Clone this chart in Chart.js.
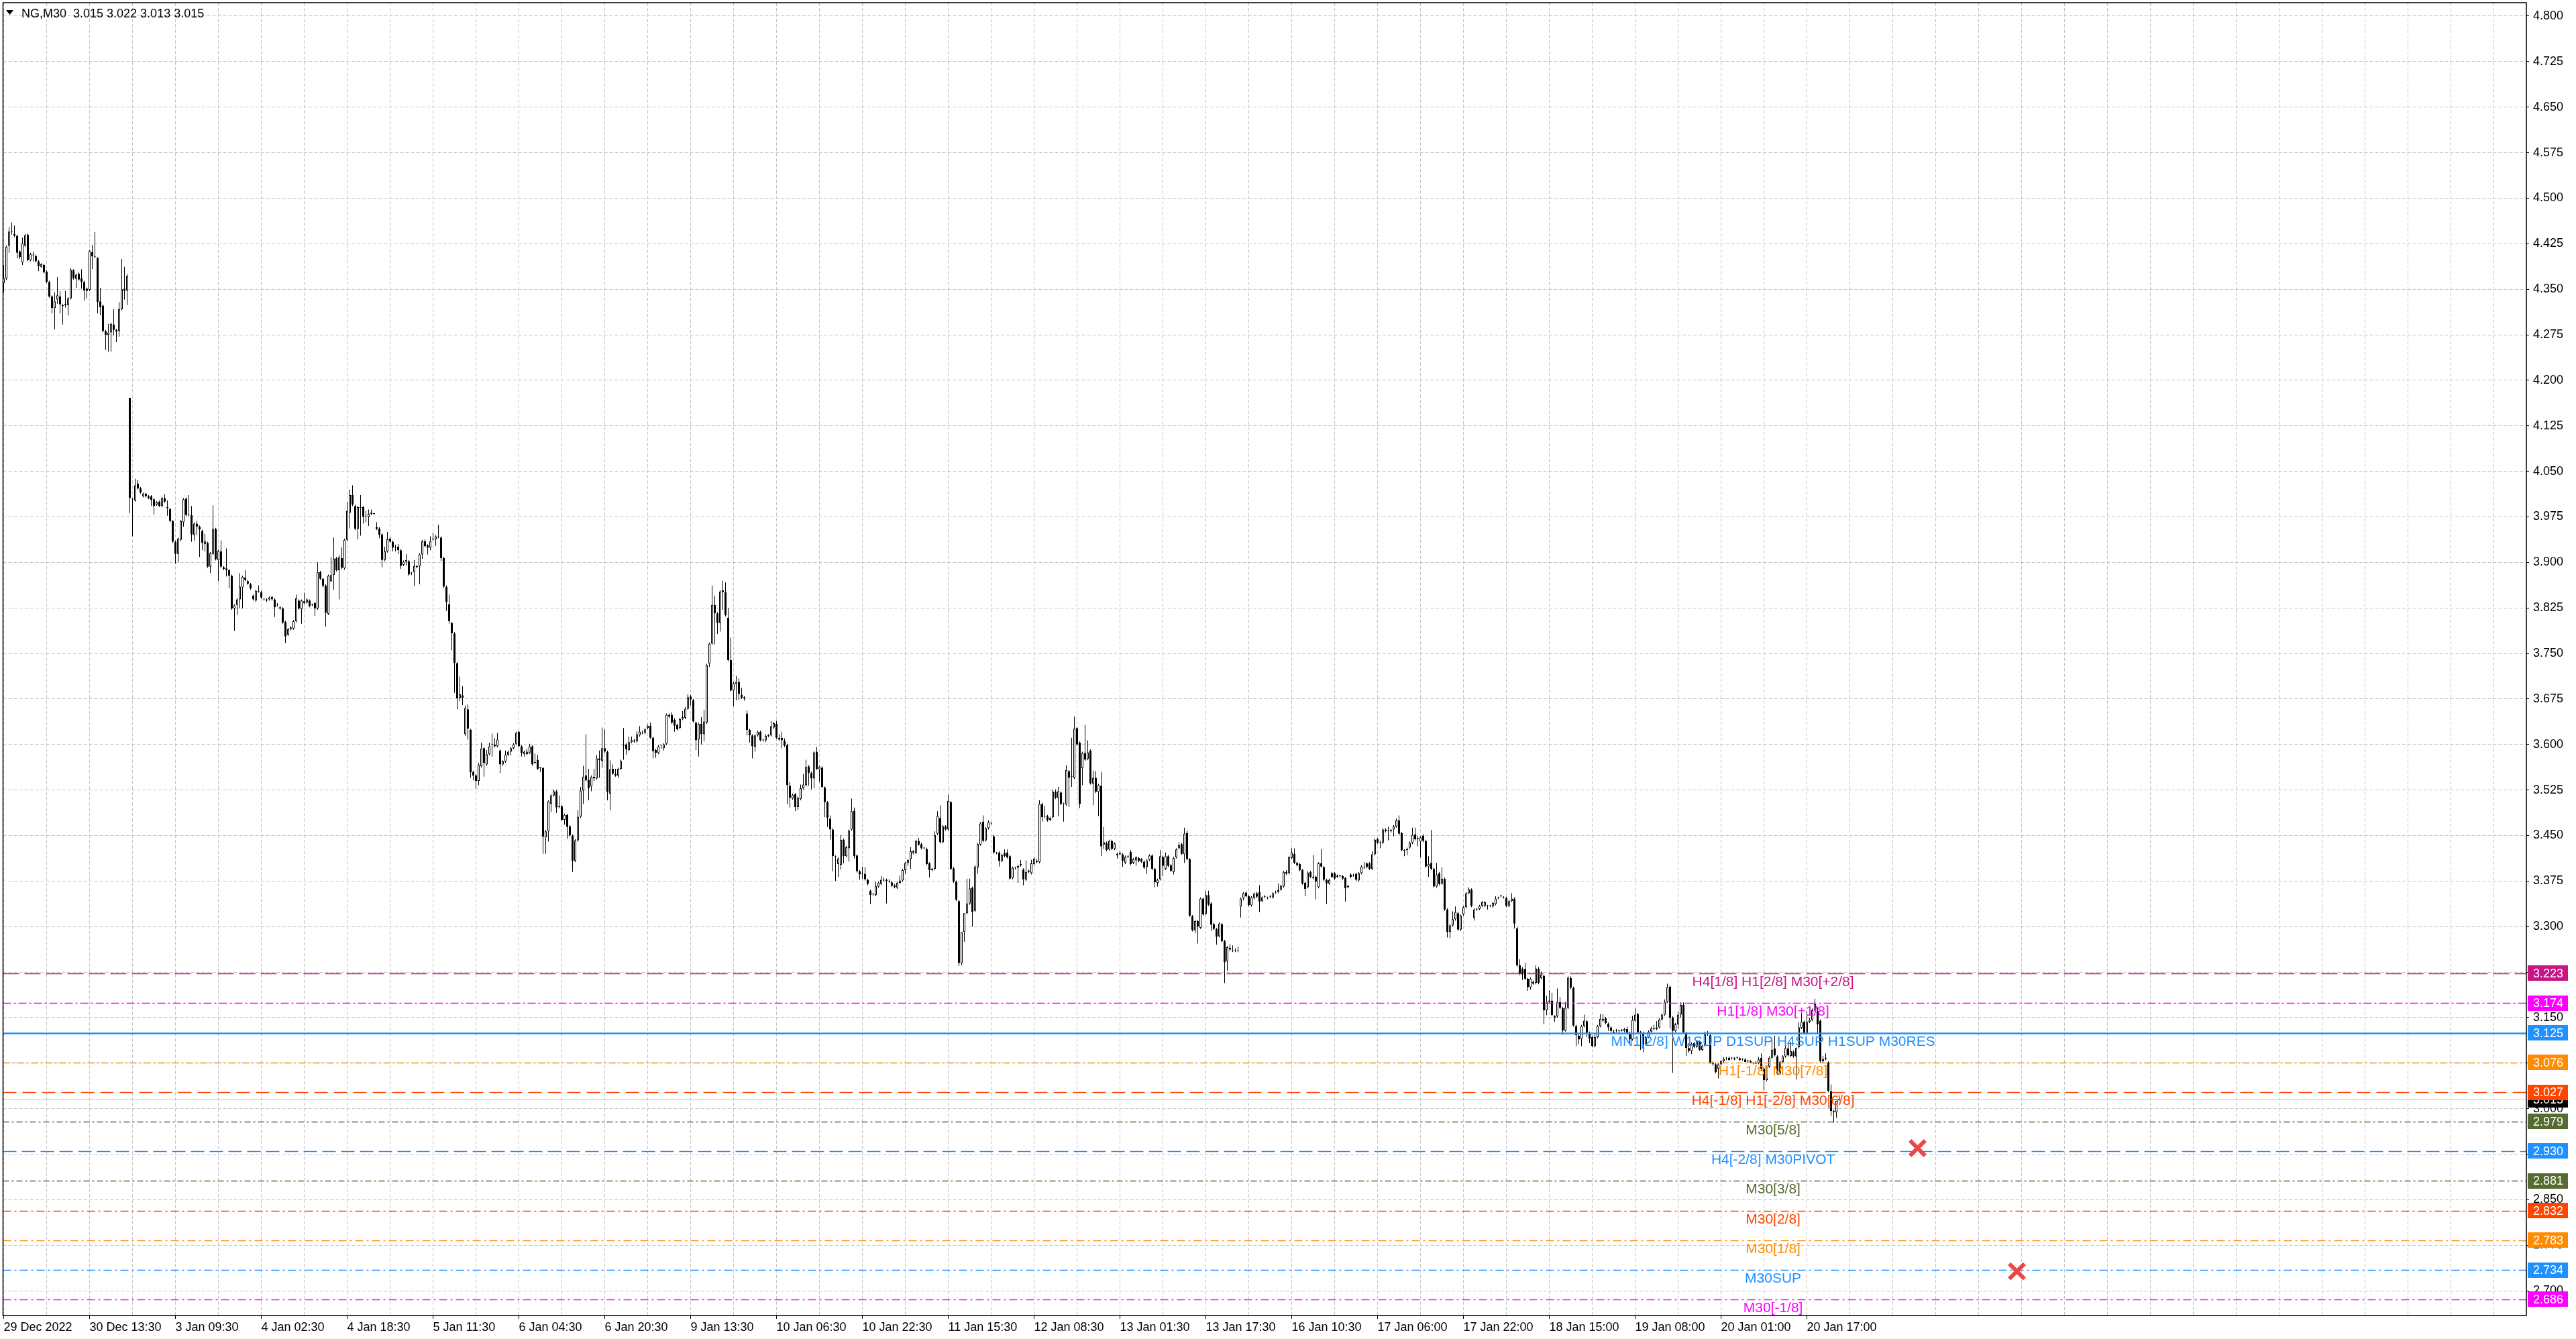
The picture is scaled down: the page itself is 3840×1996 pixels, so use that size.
<!DOCTYPE html>
<html>
<head>
<meta charset="utf-8">
<title>NG,M30</title>
<script src="https://cdn.jsdelivr.net/npm/chart.js@4.4.1/dist/chart.umd.min.js"></script>
<style>
  html, body { margin: 0; padding: 0; background: #fff; }
  #wrap { width: 3840px; height: 1996px; position: relative; }
</style>
</head>
<body>
<div id="wrap"><canvas id="chart" width="3840" height="1996"></canvas></div>
<script>
const symbolName = 'NG,M30';

// time axis labels, one every 32 bars
const dateLabels = ['29 Dec 2022', '30 Dec 13:30', '3 Jan 09:30', '4 Jan 02:30', '4 Jan 18:30', '5 Jan 11:30',
  '6 Jan 04:30', '6 Jan 20:30', '9 Jan 13:30', '10 Jan 06:30', '10 Jan 22:30', '11 Jan 15:30', '12 Jan 08:30',
  '13 Jan 01:30', '13 Jan 17:30', '16 Jan 10:30', '17 Jan 06:00', '17 Jan 22:00', '18 Jan 15:00', '19 Jan 08:00',
  '20 Jan 01:00', '20 Jan 17:00'];

const priceTicks = [2.700, 2.775, 2.850, 2.925, 3.000, 3.075, 3.150, 3.225, 3.300, 3.375, 3.450, 3.525, 3.600,
  3.675, 3.750, 3.825, 3.900, 3.975, 4.050, 4.125, 4.200, 4.275, 4.350, 4.425, 4.500, 4.575, 4.650, 4.725, 4.800];

// M30 bars
const barOpen = [
  4.360,4.368,4.422,4.445,4.441,4.438,4.412,4.394,4.422,4.440,
  4.398,4.406,4.405,4.396,4.387,4.390,4.379,4.362,4.338,4.319,
  4.333,4.338,4.324,4.324,4.324,4.335,4.381,4.367,4.376,4.368,
  4.362,4.351,4.349,4.411,4.403,4.401,4.330,4.323,4.281,4.275,
  4.279,4.292,4.283,4.281,4.317,4.351,4.348,4.171,4.004,4.002,
  4.030,4.022,4.009,4.013,4.009,4.009,4.004,3.995,4.000,3.993,
  4.006,3.990,3.988,3.968,3.934,3.914,3.937,3.966,4.005,3.978,
  3.978,3.945,3.964,3.959,3.952,3.930,3.932,3.893,3.914,3.955,
  3.904,3.918,3.892,3.890,3.887,3.878,3.824,3.830,3.839,3.859,
  3.875,3.869,3.864,3.845,3.837,3.852,3.851,3.839,3.837,3.839,
  3.839,3.839,3.829,3.824,3.824,3.802,3.781,3.790,3.791,3.803,
  3.837,3.823,3.836,3.834,3.837,3.830,3.833,3.824,3.884,3.873,
  3.862,3.815,3.869,3.879,3.907,3.887,3.907,3.890,3.937,3.982,
  4.011,3.993,3.955,3.991,3.991,3.975,3.975,3.980,3.980,3.958,
  3.956,3.946,3.904,3.918,3.939,3.934,3.924,3.926,3.920,3.896,
  3.901,3.902,3.882,3.884,3.894,3.894,3.913,3.935,3.928,3.924,
  3.938,3.938,3.942,3.941,3.907,3.860,3.831,3.800,3.783,3.734,
  3.677,3.681,3.617,3.658,3.624,3.555,3.549,3.540,3.564,3.594,
  3.567,3.584,3.600,3.600,3.597,3.590,3.567,3.572,3.583,3.588,
  3.594,3.601,3.621,3.597,3.584,3.584,3.586,3.597,3.571,3.575,
  3.561,3.561,3.447,3.457,3.502,3.516,3.523,3.497,3.498,3.476,
  3.484,3.465,3.450,3.408,3.442,3.481,3.524,3.549,3.542,3.531,
  3.547,3.544,3.577,3.573,3.594,3.588,3.519,3.560,3.552,3.549,
  3.560,3.600,3.600,3.591,3.604,3.607,3.605,3.615,3.619,3.619,
  3.627,3.631,3.611,3.591,3.586,3.598,3.594,3.601,3.649,3.649,
  3.641,3.632,3.627,3.642,3.644,3.659,3.679,3.673,3.636,3.608,
  3.634,3.617,3.636,3.733,3.766,3.830,3.816,3.800,3.854,3.851,
  3.809,3.739,3.689,3.700,3.703,3.682,3.676,3.651,3.624,3.615,
  3.596,3.615,3.621,3.607,3.607,3.615,3.615,3.628,3.634,3.611,
  3.611,3.606,3.599,3.532,3.511,3.518,3.497,3.510,3.528,3.533,
  3.564,3.553,3.544,3.588,3.559,3.562,3.529,3.505,3.478,3.460,
  3.415,3.403,3.402,3.443,3.416,3.429,3.460,3.491,3.417,3.391,
  3.387,3.387,3.377,3.359,3.353,3.352,3.366,3.370,3.376,3.377,
  3.374,3.373,3.368,3.364,3.372,3.376,3.393,3.405,3.411,3.421,
  3.421,3.441,3.436,3.429,3.428,3.404,3.395,3.395,3.453,3.479,
  3.439,3.465,3.460,3.505,3.396,3.374,3.342,3.240,3.291,3.322,
  3.338,3.364,3.326,3.397,3.435,3.473,3.442,3.462,3.470,3.449,
  3.421,3.422,3.408,3.421,3.422,3.416,3.380,3.396,3.397,3.401,
  3.394,3.377,3.390,3.388,3.403,3.408,3.406,3.502,3.481,3.482,
  3.476,3.480,3.522,3.512,3.521,3.502,3.501,3.556,3.547,3.545,
  3.627,3.603,3.561,3.586,3.576,3.590,3.535,3.545,3.522,3.532,
  3.435,3.438,3.427,3.441,3.428,3.417,3.419,3.419,3.405,3.416,
  3.423,3.405,3.409,3.413,3.411,3.407,3.398,3.410,3.417,3.395,
  3.372,3.378,3.415,3.395,3.416,3.401,3.390,3.414,3.429,3.436,
  3.419,3.454,3.411,3.317,3.294,3.309,3.298,3.346,3.321,3.352,
  3.338,3.304,3.296,3.284,3.304,3.276,3.243,3.265,3.260,3.260,
  3.260,3.333,3.347,3.356,3.350,3.335,3.347,3.355,3.357,3.342,
  3.350,3.347,3.350,3.348,3.356,3.357,3.361,3.366,3.390,3.388,
  3.413,3.420,3.405,3.403,3.393,3.372,3.365,3.390,3.380,3.382,
  3.365,3.404,3.398,3.377,3.371,3.388,3.388,3.382,3.383,3.383,
  3.380,3.365,3.386,3.384,3.387,3.376,3.388,3.398,3.404,3.404,
  3.395,3.419,3.444,3.438,3.438,3.460,3.458,3.459,3.460,3.465,
  3.475,3.454,3.425,3.426,3.430,3.438,3.452,3.445,3.440,3.450,
  3.441,3.399,3.405,3.395,3.366,3.388,3.371,3.379,3.328,3.291,
  3.302,3.312,3.322,3.295,3.320,3.332,3.355,3.361,3.314,3.328,
  3.329,3.334,3.334,3.334,3.334,3.333,3.337,3.347,3.350,3.348,
  3.347,3.334,3.342,3.346,3.297,3.236,3.231,3.230,3.214,3.200,
  3.209,3.207,3.231,3.215,3.219,3.162,3.176,3.178,3.152,3.152,
  3.176,3.166,3.129,3.166,3.215,3.199,3.136,3.120,3.115,3.136,
  3.144,3.125,3.118,3.103,3.118,3.136,3.145,3.149,3.140,3.134,
  3.127,3.128,3.128,3.129,3.128,3.131,3.125,3.114,3.145,3.156,
  3.126,3.125,3.106,3.118,3.127,3.131,3.131,3.134,3.147,3.155,
  3.176,3.201,3.150,3.128,3.139,3.155,3.171,3.125,3.100,3.095,
  3.108,3.102,3.110,3.097,3.104,3.125,3.121,3.076,3.073,3.066,
  3.073,3.078,3.083,3.084,3.083,3.083,3.084,3.083,3.081,3.081,
  3.078,3.078,3.075,3.076,3.075,3.084,3.066,3.047,3.069,3.084,
  3.099,3.086,3.058,3.077,3.086,3.099,3.087,3.094,3.086,3.101,
  3.133,3.143,3.124,3.143,3.146,3.162,3.161,3.145,3.078,3.082,
  3.076,3.029,2.996,2.994,3.015];

const barHigh = [
  4.390,4.422,4.452,4.460,4.455,4.440,4.414,4.435,4.441,4.442,
  4.410,4.412,4.407,4.398,4.393,4.392,4.381,4.364,4.340,4.345,
  4.370,4.347,4.326,4.347,4.337,4.385,4.383,4.376,4.378,4.383,
  4.364,4.353,4.415,4.423,4.444,4.403,4.352,4.325,4.283,4.293,
  4.295,4.317,4.285,4.329,4.400,4.387,4.375,4.171,4.006,4.038,
  4.036,4.024,4.015,4.015,4.011,4.011,4.006,4.001,4.002,4.008,
  4.012,4.002,3.990,3.970,3.936,3.941,3.970,4.006,4.007,4.011,
  3.993,3.966,3.968,3.961,3.954,3.947,3.934,3.917,3.994,3.957,
  3.921,3.936,3.894,3.923,3.889,3.880,3.831,3.841,3.882,3.878,
  3.887,3.871,3.866,3.847,3.855,3.862,3.853,3.841,3.841,3.844,
  3.845,3.841,3.833,3.828,3.826,3.804,3.792,3.795,3.805,3.847,
  3.839,3.839,3.850,3.841,3.839,3.832,3.835,3.900,3.886,3.875,
  3.864,3.880,3.909,3.941,3.909,3.912,3.925,3.939,4.000,4.020,
  4.027,3.995,3.993,4.011,3.993,3.985,3.987,3.987,3.982,3.966,
  3.958,3.948,3.926,3.950,3.942,3.936,3.929,3.930,3.922,3.903,
  3.914,3.904,3.884,3.904,3.896,3.915,3.937,3.938,3.930,3.943,
  3.949,3.945,3.962,3.943,3.909,3.862,3.847,3.802,3.785,3.736,
  3.712,3.696,3.664,3.666,3.626,3.557,3.551,3.570,3.603,3.596,
  3.591,3.603,3.618,3.610,3.619,3.592,3.574,3.590,3.590,3.596,
  3.602,3.621,3.623,3.599,3.590,3.593,3.601,3.599,3.585,3.583,
  3.563,3.563,3.459,3.508,3.518,3.526,3.525,3.516,3.500,3.486,
  3.486,3.467,3.452,3.444,3.492,3.530,3.565,3.617,3.560,3.549,
  3.560,3.583,3.590,3.628,3.625,3.590,3.574,3.567,3.560,3.562,
  3.575,3.627,3.602,3.613,3.613,3.609,3.622,3.630,3.623,3.627,
  3.633,3.636,3.613,3.593,3.599,3.600,3.602,3.651,3.651,3.653,
  3.643,3.634,3.644,3.655,3.662,3.683,3.682,3.675,3.638,3.636,
  3.645,3.657,3.733,3.768,3.862,3.845,3.818,3.854,3.870,3.867,
  3.825,3.776,3.703,3.713,3.709,3.693,3.680,3.656,3.626,3.617,
  3.617,3.623,3.623,3.609,3.617,3.617,3.639,3.637,3.639,3.617,
  3.621,3.610,3.601,3.538,3.519,3.520,3.514,3.534,3.551,3.575,
  3.566,3.555,3.589,3.596,3.565,3.564,3.531,3.507,3.483,3.462,
  3.417,3.414,3.451,3.445,3.433,3.460,3.511,3.496,3.419,3.393,
  3.399,3.398,3.379,3.361,3.355,3.374,3.374,3.383,3.381,3.379,
  3.378,3.375,3.370,3.374,3.384,3.395,3.407,3.411,3.431,3.426,
  3.443,3.446,3.438,3.431,3.430,3.406,3.397,3.457,3.490,3.500,
  3.467,3.467,3.517,3.507,3.398,3.376,3.344,3.291,3.322,3.379,
  3.379,3.366,3.401,3.438,3.472,3.483,3.464,3.475,3.472,3.451,
  3.423,3.424,3.420,3.427,3.427,3.418,3.399,3.398,3.402,3.410,
  3.396,3.409,3.394,3.410,3.414,3.411,3.508,3.504,3.499,3.484,
  3.481,3.526,3.526,3.530,3.523,3.504,3.566,3.558,3.611,3.646,
  3.629,3.605,3.588,3.632,3.607,3.592,3.557,3.556,3.535,3.555,
  3.464,3.440,3.443,3.443,3.439,3.422,3.425,3.421,3.417,3.418,
  3.426,3.413,3.416,3.415,3.413,3.409,3.411,3.419,3.419,3.397,
  3.379,3.426,3.417,3.422,3.418,3.403,3.415,3.429,3.439,3.438,
  3.463,3.458,3.413,3.319,3.311,3.311,3.348,3.348,3.359,3.359,
  3.340,3.306,3.298,3.307,3.306,3.278,3.268,3.271,3.269,3.264,
  3.267,3.348,3.357,3.358,3.352,3.350,3.356,3.357,3.368,3.350,
  3.352,3.349,3.352,3.357,3.359,3.371,3.369,3.392,3.393,3.416,
  3.429,3.429,3.407,3.405,3.395,3.374,3.391,3.392,3.418,3.384,
  3.406,3.428,3.400,3.379,3.379,3.390,3.390,3.386,3.385,3.385,
  3.382,3.369,3.388,3.387,3.389,3.390,3.401,3.406,3.406,3.406,
  3.424,3.445,3.446,3.441,3.462,3.462,3.464,3.461,3.467,3.478,
  3.483,3.456,3.427,3.430,3.440,3.463,3.463,3.449,3.449,3.452,
  3.443,3.416,3.459,3.397,3.405,3.390,3.398,3.381,3.330,3.304,
  3.325,3.333,3.324,3.320,3.334,3.357,3.365,3.363,3.330,3.331,
  3.336,3.342,3.342,3.336,3.336,3.341,3.350,3.349,3.352,3.350,
  3.349,3.344,3.355,3.348,3.299,3.246,3.233,3.240,3.216,3.216,
  3.211,3.236,3.233,3.226,3.221,3.186,3.195,3.191,3.154,3.198,
  3.184,3.168,3.176,3.218,3.218,3.201,3.138,3.122,3.138,3.155,
  3.146,3.127,3.120,3.122,3.138,3.156,3.156,3.151,3.142,3.136,
  3.130,3.131,3.130,3.131,3.133,3.135,3.127,3.153,3.165,3.158,
  3.128,3.127,3.120,3.129,3.135,3.138,3.144,3.149,3.157,3.180,
  3.206,3.203,3.152,3.141,3.160,3.175,3.175,3.127,3.108,3.109,
  3.110,3.112,3.112,3.105,3.127,3.128,3.123,3.078,3.075,3.075,
  3.080,3.085,3.085,3.086,3.085,3.085,3.086,3.085,3.083,3.083,
  3.080,3.080,3.077,3.078,3.085,3.091,3.068,3.071,3.086,3.113,
  3.120,3.088,3.079,3.088,3.120,3.110,3.110,3.096,3.101,3.142,
  3.164,3.145,3.161,3.150,3.165,3.181,3.167,3.147,3.087,3.091,
  3.078,3.040,2.998,3.013,3.022];

const barLow = [
  4.345,4.365,4.410,4.440,4.436,4.401,4.400,4.390,4.420,4.396,
  4.396,4.396,4.394,4.380,4.385,4.376,4.360,4.336,4.310,4.284,
  4.326,4.310,4.292,4.320,4.307,4.333,4.366,4.352,4.364,4.351,
  4.332,4.335,4.347,4.383,4.401,4.310,4.307,4.279,4.250,4.247,
  4.247,4.274,4.263,4.272,4.315,4.333,4.324,3.981,3.943,4.000,
  4.020,4.013,4.007,4.007,4.004,3.993,3.979,3.993,3.991,3.991,
  3.998,3.977,3.966,3.932,3.898,3.900,3.935,3.959,3.976,3.976,
  3.934,3.936,3.945,3.909,3.920,3.918,3.891,3.882,3.912,3.903,
  3.869,3.891,3.887,3.877,3.857,3.822,3.787,3.814,3.824,3.824,
  3.869,3.863,3.855,3.837,3.835,3.850,3.840,3.837,3.835,3.837,
  3.837,3.810,3.827,3.822,3.799,3.767,3.779,3.788,3.789,3.801,
  3.822,3.799,3.831,3.832,3.826,3.828,3.812,3.822,3.871,3.859,
  3.794,3.813,3.867,3.855,3.885,3.839,3.889,3.888,3.935,3.956,
  3.993,3.953,3.938,3.944,3.964,3.966,3.960,3.978,3.978,3.953,
  3.940,3.892,3.902,3.916,3.932,3.918,3.918,3.914,3.889,3.894,
  3.895,3.878,3.879,3.861,3.890,3.864,3.906,3.925,3.913,3.920,
  3.936,3.927,3.940,3.902,3.858,3.820,3.799,3.755,3.685,3.658,
  3.671,3.665,3.614,3.608,3.545,3.541,3.527,3.533,3.562,3.547,
  3.565,3.582,3.580,3.595,3.595,3.553,3.565,3.570,3.581,3.582,
  3.592,3.599,3.595,3.580,3.580,3.582,3.584,3.565,3.568,3.558,
  3.555,3.420,3.420,3.440,3.489,3.514,3.487,3.495,3.474,3.468,
  3.445,3.448,3.390,3.406,3.440,3.479,3.502,3.539,3.508,3.523,
  3.540,3.542,3.545,3.562,3.586,3.508,3.492,3.550,3.547,3.545,
  3.558,3.575,3.583,3.589,3.602,3.603,3.603,3.613,3.617,3.617,
  3.625,3.609,3.577,3.578,3.584,3.593,3.590,3.599,3.644,3.634,
  3.621,3.623,3.625,3.640,3.642,3.657,3.664,3.636,3.591,3.580,
  3.600,3.605,3.634,3.728,3.764,3.765,3.782,3.786,3.822,3.811,
  3.737,3.687,3.663,3.673,3.673,3.675,3.672,3.615,3.603,3.577,
  3.588,3.613,3.605,3.605,3.604,3.612,3.613,3.626,3.609,3.606,
  3.594,3.596,3.502,3.496,3.509,3.490,3.492,3.508,3.526,3.531,
  3.532,3.526,3.528,3.558,3.538,3.528,3.480,3.464,3.443,3.391,
  3.375,3.382,3.394,3.404,3.414,3.407,3.458,3.412,3.389,3.377,
  3.379,3.376,3.368,3.337,3.351,3.350,3.364,3.368,3.374,3.338,
  3.372,3.365,3.363,3.362,3.370,3.374,3.387,3.400,3.395,3.419,
  3.419,3.433,3.427,3.427,3.401,3.381,3.391,3.393,3.451,3.437,
  3.437,3.458,3.458,3.393,3.372,3.342,3.235,3.236,3.275,3.320,
  3.336,3.300,3.324,3.387,3.433,3.439,3.440,3.460,3.468,3.420,
  3.419,3.399,3.406,3.414,3.412,3.377,3.378,3.394,3.372,3.399,
  3.368,3.375,3.388,3.386,3.400,3.404,3.404,3.473,3.479,3.473,
  3.474,3.478,3.510,3.482,3.500,3.473,3.499,3.497,3.530,3.543,
  3.598,3.495,3.533,3.573,3.574,3.534,3.500,3.520,3.482,3.416,
  3.428,3.424,3.425,3.426,3.426,3.412,3.417,3.398,3.403,3.413,
  3.401,3.403,3.400,3.406,3.405,3.395,3.387,3.408,3.393,3.365,
  3.366,3.376,3.383,3.393,3.398,3.390,3.386,3.412,3.427,3.418,
  3.405,3.409,3.316,3.292,3.289,3.272,3.296,3.318,3.319,3.334,
  3.293,3.294,3.270,3.282,3.274,3.207,3.227,3.260,3.258,3.258,
  3.258,3.315,3.343,3.348,3.333,3.333,3.345,3.347,3.324,3.340,
  3.347,3.345,3.347,3.346,3.354,3.355,3.359,3.364,3.385,3.386,
  3.411,3.403,3.399,3.391,3.369,3.350,3.363,3.380,3.378,3.345,
  3.363,3.397,3.375,3.337,3.369,3.380,3.377,3.380,3.381,3.377,
  3.341,3.363,3.380,3.382,3.375,3.374,3.386,3.395,3.396,3.393,
  3.393,3.417,3.436,3.429,3.436,3.455,3.442,3.455,3.449,3.463,
  3.451,3.424,3.416,3.418,3.428,3.436,3.442,3.432,3.414,3.439,
  3.397,3.382,3.393,3.364,3.364,3.368,3.369,3.326,3.282,3.281,
  3.300,3.310,3.293,3.293,3.318,3.330,3.353,3.332,3.310,3.326,
  3.327,3.332,3.332,3.328,3.332,3.331,3.335,3.345,3.348,3.346,
  3.332,3.332,3.340,3.297,3.234,3.220,3.212,3.212,3.194,3.196,
  3.204,3.205,3.205,3.213,3.139,3.154,3.174,3.152,3.143,3.150,
  3.164,3.122,3.127,3.164,3.197,3.135,3.103,3.106,3.103,3.134,
  3.118,3.108,3.101,3.101,3.116,3.134,3.143,3.139,3.128,3.126,
  3.123,3.126,3.122,3.127,3.126,3.122,3.107,3.112,3.143,3.124,
  3.097,3.093,3.104,3.116,3.125,3.129,3.129,3.132,3.145,3.153,
  3.174,3.132,3.059,3.126,3.132,3.150,3.124,3.087,3.092,3.090,
  3.100,3.100,3.095,3.095,3.102,3.120,3.074,3.071,3.058,3.050,
  3.071,3.076,3.080,3.079,3.081,3.080,3.082,3.079,3.079,3.077,
  3.076,3.075,3.073,3.074,3.073,3.064,3.030,3.045,3.067,3.082,
  3.086,3.056,3.056,3.075,3.084,3.086,3.085,3.084,3.048,3.099,
  3.131,3.122,3.122,3.141,3.144,3.160,3.124,3.076,3.076,3.080,
  3.027,2.988,2.977,2.985,3.013];

const barClose = [
  4.368,4.420,4.445,4.445,4.438,4.410,4.403,4.426,4.439,4.398,
  4.408,4.406,4.396,4.388,4.391,4.378,4.362,4.338,4.319,4.330,
  4.340,4.325,4.322,4.326,4.335,4.382,4.368,4.374,4.366,4.362,
  4.348,4.347,4.413,4.404,4.403,4.329,4.320,4.281,4.275,4.279,
  4.293,4.283,4.280,4.317,4.350,4.347,4.372,4.006,4.004,4.027,
  4.022,4.015,4.013,4.009,4.006,4.003,3.993,3.999,3.993,4.006,
  4.000,3.990,3.968,3.934,3.914,3.939,3.968,4.004,3.978,3.978,
  3.946,3.964,3.959,3.954,3.932,3.935,3.893,3.915,3.955,3.905,
  3.919,3.893,3.889,3.887,3.878,3.824,3.829,3.839,3.860,3.876,
  3.871,3.865,3.857,3.839,3.853,3.852,3.842,3.839,3.839,3.842,
  3.843,3.826,3.829,3.826,3.801,3.778,3.790,3.793,3.803,3.841,
  3.824,3.837,3.833,3.839,3.828,3.830,3.824,3.884,3.873,3.861,
  3.817,3.878,3.879,3.906,3.887,3.908,3.891,3.937,3.985,4.011,
  3.995,3.955,3.991,3.990,3.975,3.975,3.980,3.982,3.980,3.955,
  3.945,3.904,3.918,3.938,3.934,3.924,3.924,3.920,3.894,3.901,
  3.904,3.880,3.882,3.894,3.892,3.913,3.935,3.927,3.924,3.935,
  3.938,3.943,3.941,3.907,3.860,3.835,3.803,3.783,3.734,3.676,
  3.683,3.677,3.660,3.626,3.554,3.549,3.540,3.566,3.593,3.570,
  3.584,3.597,3.600,3.597,3.608,3.567,3.572,3.583,3.588,3.594,
  3.600,3.619,3.597,3.586,3.588,3.588,3.597,3.567,3.570,3.560,
  3.561,3.448,3.457,3.506,3.516,3.523,3.496,3.497,3.476,3.484,
  3.464,3.450,3.408,3.442,3.481,3.524,3.547,3.541,3.528,3.547,
  3.544,3.577,3.574,3.594,3.588,3.522,3.559,3.552,3.549,3.560,
  3.573,3.598,3.592,3.604,3.607,3.605,3.617,3.621,3.619,3.625,
  3.631,3.611,3.589,3.586,3.597,3.598,3.600,3.649,3.646,3.636,
  3.631,3.625,3.642,3.645,3.659,3.678,3.674,3.638,3.607,3.634,
  3.617,3.638,3.731,3.766,3.830,3.816,3.800,3.852,3.851,3.813,
  3.739,3.689,3.701,3.703,3.683,3.677,3.678,3.624,3.615,3.597,
  3.615,3.621,3.607,3.607,3.614,3.614,3.630,3.635,3.611,3.608,
  3.607,3.598,3.533,3.512,3.517,3.497,3.512,3.528,3.534,3.563,
  3.553,3.544,3.587,3.560,3.563,3.530,3.505,3.479,3.460,3.416,
  3.415,3.412,3.443,3.416,3.431,3.458,3.490,3.416,3.391,3.386,
  3.387,3.378,3.370,3.352,3.353,3.367,3.372,3.377,3.376,3.375,
  3.374,3.367,3.365,3.372,3.376,3.393,3.405,3.410,3.424,3.424,
  3.441,3.435,3.429,3.429,3.403,3.393,3.393,3.451,3.482,3.439,
  3.465,3.460,3.507,3.395,3.374,3.344,3.240,3.291,3.322,3.338,
  3.363,3.324,3.399,3.436,3.470,3.441,3.462,3.472,3.470,3.422,
  3.421,3.408,3.418,3.416,3.414,3.379,3.397,3.396,3.400,3.403,
  3.378,3.390,3.392,3.404,3.412,3.406,3.502,3.480,3.481,3.475,
  3.479,3.522,3.512,3.523,3.502,3.502,3.558,3.545,3.547,3.626,
  3.600,3.502,3.586,3.575,3.587,3.536,3.545,3.522,3.533,3.432,
  3.439,3.426,3.441,3.428,3.437,3.420,3.421,3.408,3.415,3.415,
  3.403,3.411,3.414,3.408,3.407,3.397,3.409,3.417,3.395,3.373,
  3.377,3.416,3.400,3.416,3.400,3.392,3.413,3.427,3.434,3.420,
  3.453,3.411,3.318,3.294,3.309,3.300,3.346,3.320,3.352,3.336,
  3.303,3.296,3.283,3.305,3.276,3.241,3.266,3.262,3.260,3.260,
  3.260,3.346,3.355,3.350,3.335,3.348,3.354,3.349,3.341,3.348,
  3.349,3.347,3.349,3.355,3.357,3.360,3.367,3.390,3.387,3.414,
  3.422,3.405,3.401,3.393,3.371,3.362,3.389,3.382,3.382,3.374,
  3.404,3.399,3.377,3.371,3.377,3.382,3.379,3.384,3.383,3.379,
  3.363,3.367,3.382,3.385,3.377,3.388,3.399,3.397,3.398,3.395,
  3.419,3.443,3.438,3.438,3.460,3.457,3.458,3.457,3.465,3.475,
  3.453,3.426,3.425,3.428,3.438,3.451,3.444,3.445,3.447,3.441,
  3.399,3.403,3.395,3.366,3.386,3.370,3.379,3.328,3.291,3.302,
  3.312,3.324,3.295,3.318,3.332,3.355,3.361,3.334,3.328,3.328,
  3.334,3.340,3.340,3.334,3.334,3.339,3.346,3.347,3.350,3.348,
  3.334,3.342,3.346,3.305,3.236,3.222,3.221,3.214,3.200,3.214,
  3.206,3.231,3.207,3.221,3.162,3.176,3.178,3.154,3.150,3.176,
  3.166,3.129,3.166,3.216,3.199,3.137,3.121,3.114,3.136,3.145,
  3.125,3.115,3.103,3.118,3.136,3.148,3.148,3.141,3.134,3.128,
  3.125,3.128,3.128,3.129,3.131,3.125,3.114,3.146,3.155,3.126,
  3.126,3.106,3.118,3.127,3.132,3.131,3.134,3.147,3.155,3.176,
  3.200,3.150,3.128,3.139,3.155,3.171,3.126,3.100,3.095,3.107,
  3.102,3.111,3.097,3.104,3.125,3.125,3.076,3.073,3.060,3.073,
  3.078,3.082,3.083,3.080,3.083,3.081,3.084,3.080,3.081,3.077,
  3.078,3.076,3.076,3.074,3.081,3.066,3.047,3.069,3.084,3.097,
  3.088,3.058,3.077,3.086,3.100,3.088,3.095,3.086,3.100,3.134,
  3.143,3.124,3.143,3.146,3.162,3.172,3.139,3.078,3.082,3.084,
  3.029,2.996,2.994,3.013,3.015];

// Murrey-math style levels drawn as horizontal lines
const levelValues = [3.223, 3.174, 3.125, 3.076, 3.027, 2.979, 2.930, 2.881, 2.832, 2.783, 2.734, 2.686];
const levelNames = ['H4[1/8] H1[2/8] M30[+2/8]', 'H1[1/8] M30[+1/8]', 'MN1[2/8] W1SUP D1SUP H4SUP H1SUP M30RES',
  'H1[-1/8] M30[7/8]', 'H4[-1/8] H1[-2/8] M30[6/8]', 'M30[5/8]', 'H4[-2/8] M30PIVOT', 'M30[3/8]', 'M30[2/8]',
  'M30[1/8]', 'M30SUP', 'M30[-1/8]'];

// red cross markers (bar position, price)
const markBars = [713.25, 750.25];
const markPrices = [2.935, 2.732];

// ---- styles ----
const levelColors = ['#C71585', '#FF00FF', '#1E90FF', '#FF8C00', '#FF4500', '#556B2F', '#1E90FF', '#556B2F',
  '#FF4500', '#FF8C00', '#1E90FF', '#FF00FF'];
const levelDashes = [[24, 8], [12, 4, 3, 4], [], [10, 4, 3, 4], [20, 9], [9, 4, 3, 4], [20, 8], [9, 4, 3, 4],
  [12, 5, 3, 5], [12, 5, 3, 5], [12, 5, 3, 5], [12, 5, 3, 5]];
const levelWidths = [1.3, 1.3, 2.5, 1.3, 1.3, 1.3, 1.3, 1.3, 1.3, 1.3, 1.3, 1.3];
const labelAtBar = 659.4;
const FONT = 'Liberation Sans';

const lastIdx = barClose.length - 1;
const lastClose = barClose[lastIdx];

const bodyData = barOpen.map((o, i) => ({ x: i, y: [o, barClose[i]] }));
const wickData = barOpen.map((o, i) => ({ x: i, y: [barLow[i], barHigh[i]] }));
const bodyFill = barOpen.map((o, i) => (barClose[i] >= o ? '#ffffff' : '#000000'));
const markData = markBars.map((b, i) => ({ x: b, y: markPrices[i] }));

function dateLabelAt(v) {
  const k = v / 32;
  return Number.isInteger(k) && k < dateLabels.length ? dateLabels[k] : '';
}

// no extra room for half-labels at the ends of the axes
function noEdgePadding(s) {
  s.paddingLeft = 0; s.paddingRight = 0; s.paddingTop = 0; s.paddingBottom = 0;
}

const overlay = {
  id: 'overlay',
  beforeDatasetDraw(chart, args) {
    if (args.index !== 2) return;
    const { ctx, chartArea: a, scales: { x, y } } = chart;
    ctx.save();
    ctx.beginPath();
    ctx.rect(a.left, a.top, a.right - a.left, a.bottom - a.top);
    ctx.clip();
    // bid line
    let py = Math.round(y.getPixelForValue(lastClose)) + 0.5;
    ctx.strokeStyle = '#c0c0c0';
    ctx.lineWidth = 1;
    ctx.setLineDash([]);
    ctx.beginPath(); ctx.moveTo(a.left, py); ctx.lineTo(a.right, py); ctx.stroke();
    levelValues.forEach((v, k) => {
      py = Math.round(y.getPixelForValue(v)) + 0.5;
      ctx.strokeStyle = levelColors[k];
      ctx.lineWidth = levelWidths[k];
      ctx.setLineDash(levelDashes[k]);
      ctx.beginPath(); ctx.moveTo(a.left, py); ctx.lineTo(a.right, py); ctx.stroke();
    });
    ctx.setLineDash([]);
    ctx.font = '21px "' + FONT + '"';
    ctx.textAlign = 'center';
    ctx.textBaseline = 'alphabetic';
    const lx = x.getPixelForValue(labelAtBar);
    levelValues.forEach((v, k) => {
      ctx.fillStyle = levelColors[k];
      ctx.fillText(levelNames[k], lx, y.getPixelForValue(v) + 19);
    });
    ctx.restore();
  },
  afterDraw(chart) {
    const { ctx, chartArea: a, scales: { y } } = chart;
    ctx.save();
    ctx.strokeStyle = '#000';
    ctx.lineWidth = 1.5;
    ctx.strokeRect(a.left, a.top, a.right - a.left, a.bottom - a.top);

    ctx.font = '18px "' + FONT + '"';
    ctx.textAlign = 'left';
    ctx.textBaseline = 'middle';
    const box = (v, col) => {
      const py = y.getPixelForValue(v);
      ctx.fillStyle = col;
      ctx.fillRect(a.right + 2, Math.round(py - 11.5), 60, 23);
      ctx.fillStyle = '#fff';
      ctx.fillText(v.toFixed(3), a.right + 10, py + 1);
    };
    box(lastClose, '#000000');
    levelValues.forEach((v, k) => box(v, levelColors[k]));

    // header
    ctx.fillStyle = '#000';
    ctx.beginPath(); ctx.moveTo(9, 15); ctx.lineTo(20, 15); ctx.lineTo(14.5, 22); ctx.closePath(); ctx.fill();
    ctx.textBaseline = 'alphabetic';
    ctx.fillText(symbolName + '  ' + [barOpen[lastIdx], barHigh[lastIdx], barLow[lastIdx], lastClose]
      .map(v => v.toFixed(3)).join(' '), 32, 26);
    ctx.restore();
  }
};

Chart.defaults.font.family = FONT;
Chart.defaults.color = '#000';

new Chart(document.getElementById('chart'), {
  type: 'bar',
  data: {
    datasets: [
      { label: 'body', data: bodyData, backgroundColor: bodyFill, borderColor: '#000', borderWidth: 1,
        borderSkipped: false, barThickness: 3, grouped: false, minBarLength: 1, inflateAmount: 0, order: 1 },
      { label: 'wick', data: wickData, backgroundColor: '#000', borderWidth: 0, barThickness: 1,
        grouped: false, inflateAmount: 0, order: 2 },
      { type: 'scatter', label: 'marks', data: markData, pointStyle: 'crossRot', radius: 16, borderWidth: 6,
        borderColor: '#EE4545', backgroundColor: '#EE4545', order: 0 }
    ]
  },
  options: {
    responsive: false,
    devicePixelRatio: 1,
    animation: false,
    events: [],
    layout: { autoPadding: false, padding: { left: 4.5, top: 4, right: 0, bottom: 0 } },
    plugins: { legend: { display: false }, tooltip: { enabled: false } },
    scales: {
      x: {
        type: 'linear', min: -0.25, max: 940.125, offset: false,
        afterBuildTicks: s => { const t = []; for (let v = 0; v <= 928; v += 16) t.push({ value: v }); s.ticks = t; },
        afterFit: s => { s.height = 35; noEdgePadding(s); },
        grid: { offset: false, color: '#c4c4c4', lineWidth: 1, drawTicks: true, tickLength: 5,
          tickColor: c => (c.tick && dateLabelAt(c.tick.value) ? '#000' : 'rgba(0,0,0,0)') },
        border: { display: false, dash: [5, 3] },
        ticks: { autoSkip: false, maxRotation: 0, minRotation: 0, align: 'start', padding: 2, color: '#000',
          font: { family: FONT, size: 18 }, callback: v => dateLabelAt(v) }
      },
      y: {
        position: 'right', min: 2.6592, max: 4.8221, beginAtZero: false,
        afterBuildTicks: s => { s.ticks = priceTicks.map(v => ({ value: v })); },
        afterFit: s => { s.width = 74; noEdgePadding(s); },
        grid: { color: '#c4c4c4', lineWidth: 1, tickColor: '#000', tickLength: 4 },
        border: { display: false, dash: [5, 3] },
        ticks: { padding: 6, color: '#000', font: { family: FONT, size: 18 }, callback: v => v.toFixed(3) }
      }
    }
  },
  plugins: [overlay]
});
</script>
</body>
</html>
